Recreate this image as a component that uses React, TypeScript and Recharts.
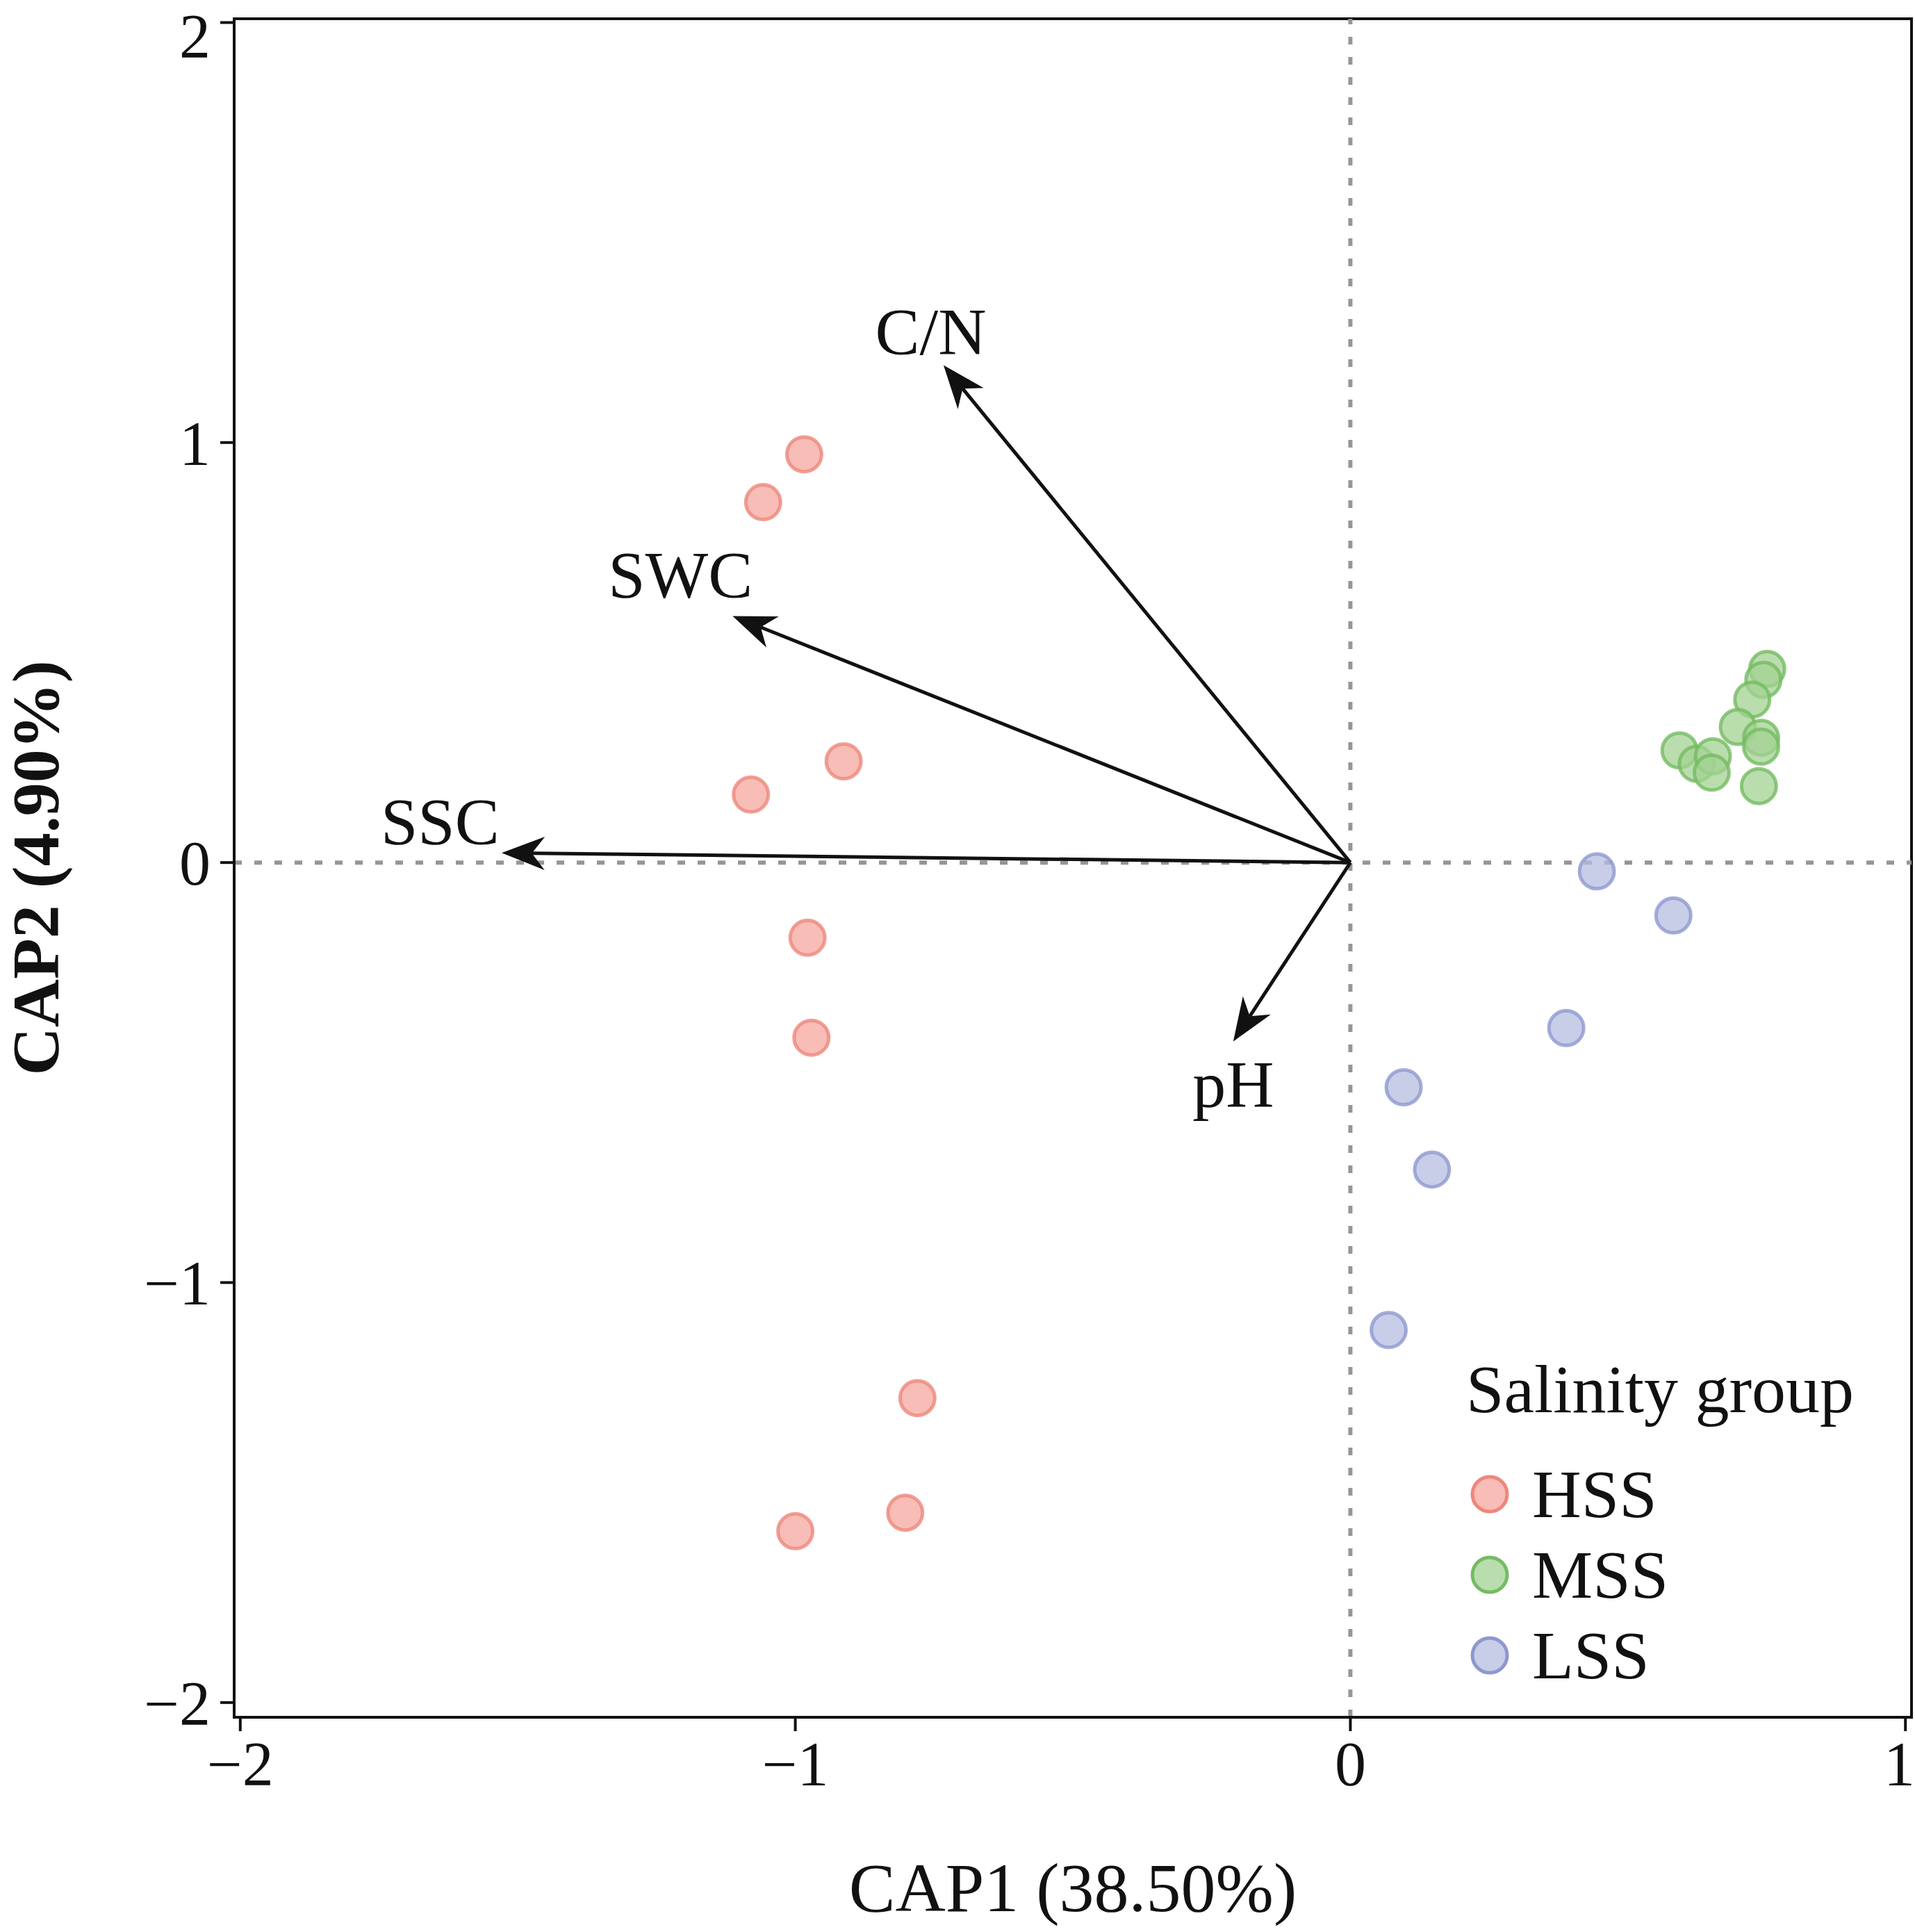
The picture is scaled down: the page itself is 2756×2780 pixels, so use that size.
import React from "react";
import { ScatterChart, Scatter, XAxis, YAxis, ReferenceLine, ReferenceArea, ReferenceDot } from "recharts";

if (typeof document !== "undefined") document.body.style.margin = "0";

const hssX = [-0.984, -1.058, -0.913, -1.08, -0.978, -0.971, -0.78, -0.802, -1.0];
const hssY = [0.972, 0.858, 0.241, 0.162, -0.179, -0.417, -1.275, -1.548, -1.592];
const mssX = [0.751, 0.744, 0.724, 0.698, 0.74, 0.74, 0.593, 0.624, 0.653, 0.651, 0.736];
const mssY = [0.461, 0.435, 0.388, 0.323, 0.297, 0.276, 0.267, 0.235, 0.253, 0.214, 0.182];
const lssX = [0.444, 0.582, 0.389, 0.096, 0.147, 0.069];
const lssY = [-0.021, -0.126, -0.394, -0.535, -0.731, -1.113];

const arrowNames = ["C/N", "SWC", "SSC", "pH"];
const arrowX = [-0.733, -1.113, -1.529, -0.211];
const arrowY = [1.184, 0.587, 0.023, -0.426];
const labelX = [-0.756, -1.207, -1.64, -0.211];
const labelY = [1.263, 0.684, 0.097, -0.529];

const xTicks = [-2, -1, 0, 1];
const yTicks = [-2, -1, 0, 1, 2];

const toPoints = (xs: number[], ys: number[]) => xs.map((x, i) => ({ x, y: ys[i] }));

const groups = [
  { name: "HSS", data: toPoints(hssX, hssY), fill: "#F4A79E", stroke: "#EE877C" },
  { name: "MSS", data: toPoints(mssX, mssY), fill: "#A3D293", stroke: "#74BC62" },
  { name: "LSS", data: toPoints(lssX, lssY), fill: "#B6BCE0", stroke: "#8E98CF" },
];

const FONT = "'Liberation Serif', 'DejaVu Serif', serif";

function Arrow(props: any) {
  const x1 = props.x1, y1 = props.y1, x2 = props.x2, y2 = props.y2;
  if (x1 == null) return null;
  const dx = x2 - x1, dy = y2 - y1;
  const len = Math.sqrt(dx * dx + dy * dy);
  const ux = dx / len, uy = dy / len;
  const hl = 62, hw = 24;
  const bx = x2 - ux * hl, by = y2 - uy * hl;
  const nx = -uy, ny = ux;
  const ix = x2 - ux * hl * 0.7, iy = y2 - uy * hl * 0.7;
  return (
    <g>
      <line x1={x1} y1={y1} x2={ix} y2={iy} stroke="#111" strokeWidth={5} />
      <polygon
        points={`${x2},${y2} ${bx + nx * hw},${by + ny * hw} ${ix},${iy} ${bx - nx * hw},${by - ny * hw}`}
        fill="#111"
      />
    </g>
  );
}

function Dot(fill: string, stroke: string) {
  return (p: any) => (
    <circle cx={p.cx} cy={p.cy} r={25} fill={fill} stroke={stroke} strokeWidth={5} fillOpacity={0.75} strokeOpacity={0.8} />
  );
}

export default function App() {
  return (
    <div style={{ position: "relative", width: 2756, height: 2780, background: "#fff", fontFamily: FONT }}>
      <ScatterChart width={2756} height={2780} margin={{ top: 27, right: 5, bottom: 0, left: 0 }}>
        <XAxis
          type="number"
          dataKey="x"
          domain={[-2.011, 1.011]}
          ticks={xTicks}
          allowDataOverflow
          height={309}
          tickSize={20}
          tickMargin={14}
          stroke="#111"
          strokeWidth={4}
          tick={{ fill: "#111", fontSize: 90, fontFamily: FONT }}
          tickFormatter={(v) => String(v).replace("-", "\u2212")}
          label={{ value: "CAP1 (38.50%)", position: "insideBottom", offset: 30, fill: "#111", fontSize: 100, fontFamily: FONT }}
        />
        <YAxis
          type="number"
          dataKey="y"
          domain={[-2.035, 2.009]}
          ticks={yTicks}
          allowDataOverflow
          width={337}
          tickSize={20}
          tickMargin={14}
          stroke="#111"
          strokeWidth={4}
          tick={{ fill: "#111", fontSize: 90, fontFamily: FONT }}
          tickFormatter={(v) => String(v).replace("-", "\u2212")}
          label={{ value: "CAP2 (4.90%)", angle: -90, position: "insideLeft", offset: 0, dx: 50, fill: "#111", fontSize: 96, fontWeight: "bold", fontFamily: FONT, style: { textAnchor: "middle" } }}
        />
        <ReferenceArea x1={-2.011} x2={1.011} y1={-2.035} y2={2.009} fill="none" stroke="#111" strokeWidth={4} ifOverflow="visible" />
        <ReferenceLine x={0} stroke="#9A9494" strokeWidth={6} strokeDasharray="11 18" />
        <ReferenceLine y={0} stroke="#9A9494" strokeWidth={6} strokeDasharray="11 18" />
        {arrowNames.map((n, i) => (
          <ReferenceLine
            key={n}
            segment={[{ x: 0, y: 0 }, { x: arrowX[i], y: arrowY[i] }]}
            shape={(p: any) => <Arrow {...p} />}
            ifOverflow="visible"
          />
        ))}
        {arrowNames.map((n, i) => (
          <ReferenceDot
            key={"l" + n}
            x={labelX[i]}
            y={labelY[i]}
            r={0}
            ifOverflow="visible"
            shape={(p: any) => (
              <text x={p.cx} y={p.cy} textAnchor="middle" dominantBaseline="central" fontSize={96} fontFamily={FONT} fill="#111">
                {n}
              </text>
            )}
          />
        ))}
        {groups.map((g) => (
          <Scatter key={g.name} name={g.name} data={g.data} isAnimationActive={false} shape={Dot(g.fill, g.stroke)} />
        ))}
      </ScatterChart>
      <svg style={{ position: "absolute", left: 0, top: 0 }} width={2756} height={2780}>
        <text x={2110} y={2032} fontSize={98} fontFamily={FONT} fill="#111">Salinity group</text>
        {groups.map((g, i) => (
          <g key={g.name}>
            <circle cx={2144} cy={2150 + i * 116} r={25} fill={g.fill} stroke={g.stroke} strokeWidth={5} fillOpacity={0.75} />
            <text x={2205} y={2150 + i * 116} dominantBaseline="central" fontSize={98} fontFamily={FONT} fill="#111">{g.name}</text>
          </g>
        ))}
      </svg>
    </div>
  );
}
